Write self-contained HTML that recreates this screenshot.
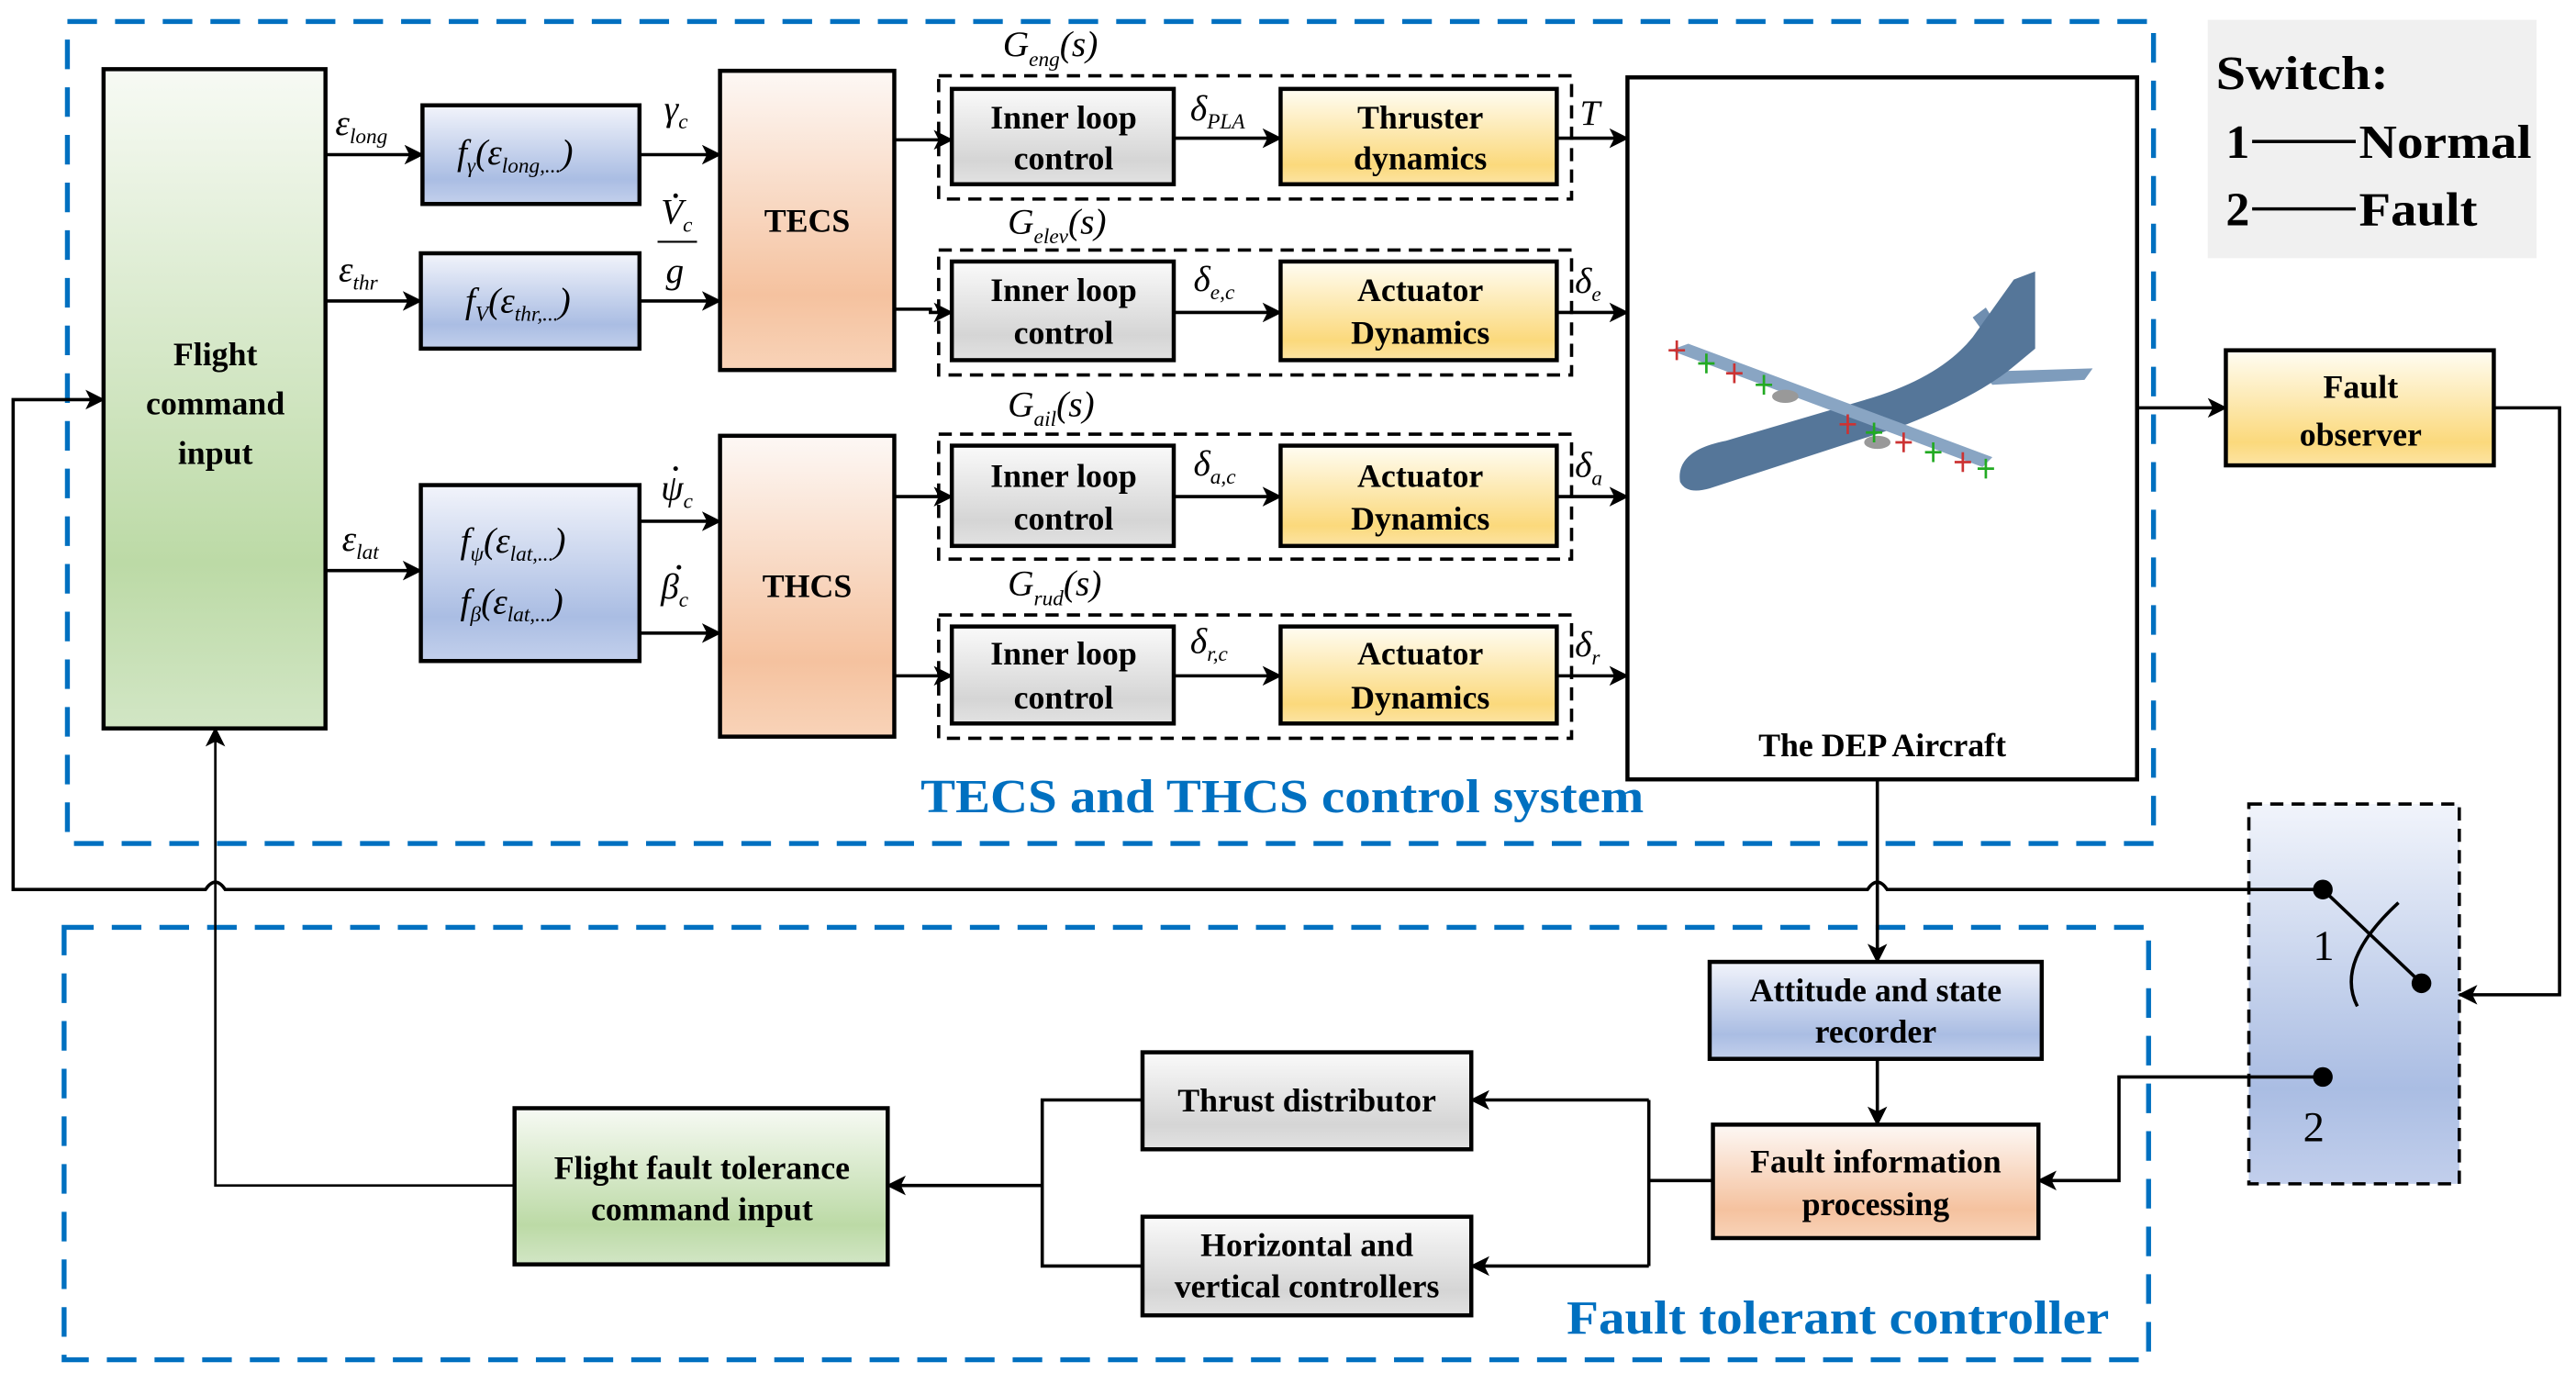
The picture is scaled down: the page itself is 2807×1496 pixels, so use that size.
<!DOCTYPE html>
<html><head><meta charset="utf-8"><style>
html,body{margin:0;padding:0;background:#fff;}
svg{display:block;}
text{font-family:"Liberation Serif",serif;}
.b{font-weight:bold;font-size:20px;fill:#000;}
.m{font-style:italic;font-size:22px;fill:#000;}
.s{font-size:13px;font-style:italic;}
</style></head><body>
<svg width="2807" height="1496" viewBox="0 0 1567 835" xmlns="http://www.w3.org/2000/svg">
<defs>
<linearGradient id="gr" x1="0" y1="0" x2="0" y2="1"><stop offset="0" stop-color="#f7faf4"/><stop offset="0.75" stop-color="#bcdaa6"/><stop offset="1" stop-color="#d2e6c5"/></linearGradient>
<linearGradient id="bl" x1="0" y1="0" x2="0" y2="1"><stop offset="0" stop-color="#f2f4fb"/><stop offset="0.75" stop-color="#aabde3"/><stop offset="1" stop-color="#c3d0ec"/></linearGradient>
<linearGradient id="sa" x1="0" y1="0" x2="0" y2="1"><stop offset="0" stop-color="#fdf8f5"/><stop offset="0.75" stop-color="#f5c29f"/><stop offset="1" stop-color="#f8d3b8"/></linearGradient>
<linearGradient id="ye" x1="0" y1="0" x2="0" y2="1"><stop offset="0" stop-color="#fffdf3"/><stop offset="0.8" stop-color="#fbd97c"/><stop offset="1" stop-color="#fce4a4"/></linearGradient>
<linearGradient id="gy" x1="0" y1="0" x2="0" y2="1"><stop offset="0" stop-color="#fafafa"/><stop offset="0.75" stop-color="#d5d5d5"/><stop offset="1" stop-color="#e2e2e2"/></linearGradient>
<linearGradient id="sw" x1="0" y1="0" x2="0" y2="1"><stop offset="0" stop-color="#f1f4fb"/><stop offset="0.75" stop-color="#aabde3"/><stop offset="1" stop-color="#c2cfec"/></linearGradient>
<marker id="ar" markerWidth="12" markerHeight="12" refX="11" refY="6" orient="auto" markerUnits="userSpaceOnUse"><path d="M0,0 L12,6 L0,12 L3,6 Z" fill="#000"/></marker>
</defs>

<rect x="41" y="13" width="1269" height="500" fill="none" stroke="#0070C0" stroke-width="3" stroke-dasharray="18,11"/>
<rect x="39" y="564" width="1268" height="263" fill="none" stroke="#0070C0" stroke-width="3" stroke-dasharray="18,11"/>
<text x="560" y="494" font-size="29" font-weight="bold" fill="#0070C0" textLength="440" lengthAdjust="spacingAndGlyphs">TECS and THCS control system</text>
<text x="953" y="811" font-size="29" font-weight="bold" fill="#0070C0" textLength="330" lengthAdjust="spacingAndGlyphs">Fault tolerant controller</text>

<rect x="1343" y="12" width="200" height="145" fill="#f0f0f0"/>
<text x="1348" y="54" font-size="29" font-weight="bold" textLength="105" lengthAdjust="spacingAndGlyphs">Switch:</text>
<text x="1354" y="96" font-size="29" font-weight="bold">1</text><line x1="1370" y1="86" x2="1433" y2="86" stroke="#000" stroke-width="2"/>
<text x="1435" y="96" font-size="29" font-weight="bold" textLength="105" lengthAdjust="spacingAndGlyphs">Normal</text>
<text x="1354" y="137" font-size="29" font-weight="bold">2</text><line x1="1370" y1="127" x2="1433" y2="127" stroke="#000" stroke-width="2"/>
<text x="1435" y="137" font-size="29" font-weight="bold" textLength="72" lengthAdjust="spacingAndGlyphs">Fault</text>

<rect x="63" y="42" width="135" height="401" fill="url(#gr)" stroke="#000" stroke-width="2.5"/>
<text class="b" font-size="25" x="131" y="222" text-anchor="middle">Flight</text>
<text class="b" font-size="25" x="131" y="252" text-anchor="middle">command</text>
<text class="b" font-size="25" x="131" y="282" text-anchor="middle">input</text>

<rect x="257" y="64" width="132" height="60" fill="url(#bl)" stroke="#000" stroke-width="2.5"/>
<text class="m" x="278" y="100">f<tspan class="s" dy="5">γ</tspan><tspan dy="-5">(ε</tspan><tspan class="s" dy="5">long,...</tspan><tspan dy="-5">)</tspan></text>
<rect x="256" y="154" width="133" height="58" fill="url(#bl)" stroke="#000" stroke-width="2.5"/>
<text class="m" x="283" y="190">f<tspan class="s" dy="5">V</tspan><tspan dy="-5">(ε</tspan><tspan class="s" dy="5">thr,...</tspan><tspan dy="-5">)</tspan></text>
<rect x="256" y="295" width="133" height="107" fill="url(#bl)" stroke="#000" stroke-width="2.5"/>
<text class="m" x="280" y="336">f<tspan class="s" dy="5">ψ</tspan><tspan dy="-5">(ε</tspan><tspan class="s" dy="5">lat,...</tspan><tspan dy="-5">)</tspan></text>
<text class="m" x="280" y="373">f<tspan class="s" dy="5">β</tspan><tspan dy="-5">(ε</tspan><tspan class="s" dy="5">lat,...</tspan><tspan dy="-5">)</tspan></text>

<rect x="438" y="43" width="106" height="182" fill="url(#sa)" stroke="#000" stroke-width="2.5"/>
<text class="b" x="491" y="141" text-anchor="middle">TECS</text>
<rect x="438" y="265" width="106" height="183" fill="url(#sa)" stroke="#000" stroke-width="2.5"/>
<text class="b" x="491" y="363" text-anchor="middle">THCS</text>

<text class="m" x="204" y="82">ε<tspan class="s" dy="5">long</tspan></text>
<text class="m" x="206" y="171">ε<tspan class="s" dy="5">thr</tspan></text>
<text class="m" x="208" y="335">ε<tspan class="s" dy="5">lat</tspan></text>
<text class="m" x="404" y="73">γ<tspan class="s" dy="5">c</tspan></text>
<text class="m" x="402" y="136">V<tspan class="s" dy="5">c</tspan></text>
<circle cx="411" cy="119" r="1.4" fill="#000"/>
<line x1="400" y1="147" x2="424" y2="147" stroke="#000" stroke-width="1.2"/>
<text class="m" x="405" y="172">g</text>
<text class="m" x="402" y="304">ψ<tspan class="s" dy="5">c</tspan></text>
<circle cx="411" cy="285" r="1.4" fill="#000"/>
<text class="m" x="402" y="364">β<tspan class="s" dy="5">c</tspan></text>
<circle cx="413" cy="345" r="1.4" fill="#000"/>

<g stroke="#000" stroke-width="2" fill="none">
<line x1="198" y1="94" x2="257" y2="94" marker-end="url(#ar)"/>
<line x1="198" y1="183" x2="256" y2="183" marker-end="url(#ar)"/>
<line x1="198" y1="347" x2="256" y2="347" marker-end="url(#ar)"/>
<line x1="389" y1="94" x2="438" y2="94" marker-end="url(#ar)"/>
<line x1="389" y1="183" x2="438" y2="183" marker-end="url(#ar)"/>
<line x1="389" y1="317" x2="438" y2="317" marker-end="url(#ar)"/>
<line x1="389" y1="385" x2="438" y2="385" marker-end="url(#ar)"/>
<line x1="544" y1="85" x2="579" y2="85" marker-end="url(#ar)"/>
<polyline points="544,188 566,188 566,190 579,190" marker-end="url(#ar)"/>
<line x1="544" y1="302" x2="579" y2="302" marker-end="url(#ar)"/>
<line x1="544" y1="411" x2="579" y2="411" marker-end="url(#ar)"/>
</g>

<rect x="571" y="46" width="385" height="75" fill="none" stroke="#000" stroke-width="2" stroke-dasharray="8,5"/>
<rect x="571" y="152" width="385" height="76" fill="none" stroke="#000" stroke-width="2" stroke-dasharray="8,5"/>
<rect x="571" y="264" width="385" height="76" fill="none" stroke="#000" stroke-width="2" stroke-dasharray="8,5"/>
<rect x="571" y="374" width="385" height="75" fill="none" stroke="#000" stroke-width="2" stroke-dasharray="8,5"/>

<rect x="579" y="54" width="135" height="58" fill="url(#gy)" stroke="#000" stroke-width="2.5"/>
<rect x="579" y="159" width="135" height="60" fill="url(#gy)" stroke="#000" stroke-width="2.5"/>
<rect x="579" y="271" width="135" height="61" fill="url(#gy)" stroke="#000" stroke-width="2.5"/>
<rect x="579" y="381" width="135" height="59" fill="url(#gy)" stroke="#000" stroke-width="2.5"/>
<rect x="779" y="54" width="168" height="58" fill="url(#ye)" stroke="#000" stroke-width="2.5"/>
<rect x="779" y="159" width="168" height="60" fill="url(#ye)" stroke="#000" stroke-width="2.5"/>
<rect x="779" y="271" width="168" height="61" fill="url(#ye)" stroke="#000" stroke-width="2.5"/>
<rect x="779" y="381" width="168" height="59" fill="url(#ye)" stroke="#000" stroke-width="2.5"/>

<text class="b" x="647" y="78" text-anchor="middle">Inner loop</text><text class="b" x="647" y="103" text-anchor="middle">control</text>
<text class="b" x="647" y="183" text-anchor="middle">Inner loop</text><text class="b" x="647" y="209" text-anchor="middle">control</text>
<text class="b" x="647" y="296" text-anchor="middle">Inner loop</text><text class="b" x="647" y="322" text-anchor="middle">control</text>
<text class="b" x="647" y="404" text-anchor="middle">Inner loop</text><text class="b" x="647" y="431" text-anchor="middle">control</text>
<text class="b" x="864" y="78" text-anchor="middle">Thruster</text><text class="b" x="864" y="103" text-anchor="middle">dynamics</text>
<text class="b" x="864" y="183" text-anchor="middle">Actuator</text><text class="b" x="864" y="209" text-anchor="middle">Dynamics</text>
<text class="b" x="864" y="296" text-anchor="middle">Actuator</text><text class="b" x="864" y="322" text-anchor="middle">Dynamics</text>
<text class="b" x="864" y="404" text-anchor="middle">Actuator</text><text class="b" x="864" y="431" text-anchor="middle">Dynamics</text>

<g stroke="#000" stroke-width="2">
<line x1="714" y1="84" x2="779" y2="84" marker-end="url(#ar)"/>
<line x1="714" y1="190" x2="779" y2="190" marker-end="url(#ar)"/>
<line x1="714" y1="302" x2="779" y2="302" marker-end="url(#ar)"/>
<line x1="714" y1="411" x2="779" y2="411" marker-end="url(#ar)"/>
<line x1="947" y1="84" x2="990" y2="84" marker-end="url(#ar)"/>
<line x1="947" y1="190" x2="990" y2="190" marker-end="url(#ar)"/>
<line x1="947" y1="302" x2="990" y2="302" marker-end="url(#ar)"/>
<line x1="947" y1="411" x2="990" y2="411" marker-end="url(#ar)"/>
</g>
<text class="m" x="610" y="34">G<tspan class="s" dy="6">eng</tspan><tspan dy="-6">(s)</tspan></text>
<text class="m" x="613" y="142">G<tspan class="s" dy="6">elev</tspan><tspan dy="-6">(s)</tspan></text>
<text class="m" x="613" y="253">G<tspan class="s" dy="6">ail</tspan><tspan dy="-6">(s)</tspan></text>
<text class="m" x="613" y="362">G<tspan class="s" dy="6">rud</tspan><tspan dy="-6">(s)</tspan></text>
<text class="m" x="724" y="73">δ<tspan class="s" dy="5">PLA</tspan></text>
<text class="m" x="726" y="177">δ<tspan class="s" dy="5">e,c</tspan></text>
<text class="m" x="726" y="289">δ<tspan class="s" dy="5">a,c</tspan></text>
<text class="m" x="724" y="397">δ<tspan class="s" dy="5">r,c</tspan></text>
<text class="m" x="961" y="76">T</text>
<text class="m" x="958" y="178">δ<tspan class="s" dy="5">e</tspan></text>
<text class="m" x="958" y="290">δ<tspan class="s" dy="5">a</tspan></text>
<text class="m" x="958" y="399">δ<tspan class="s" dy="5">r</tspan></text>

<rect x="990" y="47" width="310" height="427" fill="#fff" stroke="#000" stroke-width="2.5"/>
<text class="b" x="1145" y="460" text-anchor="middle" font-size="22">The DEP Aircraft</text>
<g>
<path d="M1205,226 L1273,224 L1268,231 L1212,234 Z" fill="#7e9cbc"/>
<path d="M1200,193 L1208,187 L1216,200 L1208,204 Z" fill="#6f8eb0"/>
<path d="M1022,293 Q1020,280 1034,273 Q1040,270 1050,268 L1135,243 Q1180,230 1200,205 L1225,170 L1238,165 L1238,212 L1226,222 Q1205,240 1160,258 L1040,297 Q1026,301 1022,293 Z" fill="#557699"/>
<path d="M1016,213 L1027,209 L1212,278 L1206,284 Z" fill="#89a5c3"/>
<ellipse cx="1086" cy="241" rx="8" ry="4" fill="#999"/>
<ellipse cx="1142" cy="269" rx="8" ry="4" fill="#999"/>
<g stroke-width="1.5">
<path d="M1020,207 v12 M1015,213 h10" stroke="#c33"/>
<path d="M1038,215 v12 M1033,221 h10" stroke="#2a2"/>
<path d="M1055,221 v12 M1050,227 h10" stroke="#c33"/>
<path d="M1073,228 v12 M1068,234 h10" stroke="#2a2"/>
<path d="M1124,252 v12 M1119,258 h10" stroke="#c33"/>
<path d="M1140,257 v12 M1135,263 h10" stroke="#2a2"/>
<path d="M1158,263 v12 M1153,269 h10" stroke="#c33"/>
<path d="M1176,269 v12 M1171,275 h10" stroke="#2a2"/>
<path d="M1194,275 v12 M1189,281 h10" stroke="#c33"/>
<path d="M1208,279 v12 M1203,285 h10" stroke="#2a2"/>
</g>
</g>

<rect x="1354" y="213" width="163" height="70" fill="url(#ye)" stroke="#000" stroke-width="2.5"/>
<text class="b" x="1436" y="242" text-anchor="middle" font-size="22">Fault</text>
<text class="b" x="1436" y="271" text-anchor="middle" font-size="22">observer</text>

<rect x="1368" y="489" width="128" height="231" fill="url(#sw)" stroke="#000" stroke-width="2" stroke-dasharray="8,5"/>
<circle cx="1413" cy="541" r="6" fill="#000"/>
<circle cx="1473" cy="598" r="6" fill="#000"/>
<circle cx="1413" cy="655" r="6" fill="#000"/>
<line x1="1413" y1="541" x2="1473" y2="598" stroke="#000" stroke-width="2"/>
<path d="M1459,549 Q1420,585 1434,612" fill="none" stroke="#000" stroke-width="2"/>
<text x="1407" y="584" font-size="26">1</text>
<text x="1401" y="694" font-size="26">2</text>

<rect x="1040" y="585" width="202" height="59" fill="url(#bl)" stroke="#000" stroke-width="2.5"/>
<text class="b" x="1141" y="609" text-anchor="middle">Attitude and state</text>
<text class="b" x="1141" y="634" text-anchor="middle">recorder</text>
<rect x="1042" y="684" width="198" height="69" fill="url(#sa)" stroke="#000" stroke-width="2.5"/>
<text class="b" x="1141" y="713" text-anchor="middle">Fault information</text>
<text class="b" x="1141" y="739" text-anchor="middle">processing</text>
<rect x="695" y="640" width="200" height="59" fill="url(#gy)" stroke="#000" stroke-width="2.5"/>
<text class="b" x="795" y="676" text-anchor="middle">Thrust distributor</text>
<rect x="695" y="740" width="200" height="60" fill="url(#gy)" stroke="#000" stroke-width="2.5"/>
<text class="b" x="795" y="764" text-anchor="middle">Horizontal and</text>
<text class="b" x="795" y="789" text-anchor="middle">vertical controllers</text>
<rect x="313" y="674" width="227" height="95" fill="url(#gr)" stroke="#000" stroke-width="2.5"/>
<text class="b" x="427" y="717" text-anchor="middle">Flight fault tolerance</text>
<text class="b" x="427" y="742" text-anchor="middle">command input</text>

<g stroke="#000" stroke-width="2" fill="none">
<path d="M1413,541 L1148,541 Q1142,532 1136,541 L137,541 Q131,532 125,541 L8,541 L8,243 L63,243" marker-end="url(#ar)"/>
<line x1="1300" y1="248" x2="1354" y2="248" marker-end="url(#ar)"/>
<polyline points="1517,248 1557,248 1557,605 1496,605" marker-end="url(#ar)"/>
<line x1="1142" y1="474" x2="1142" y2="585" marker-end="url(#ar)"/>
<line x1="1142" y1="644" x2="1142" y2="684" marker-end="url(#ar)"/>
<polyline points="1413,655 1289,655 1289,718 1240,718" marker-end="url(#ar)"/>
<polyline points="1042,718 1003,718"/>
<polyline points="1003,669 1003,770"/>
<line x1="1003" y1="669" x2="895" y2="669" marker-end="url(#ar)"/>
<line x1="1003" y1="770" x2="895" y2="770" marker-end="url(#ar)"/>
<polyline points="695,669 634,669 634,770 695,770"/>
<line x1="634" y1="721" x2="540" y2="721" marker-end="url(#ar)"/>
<polyline points="313,721 131,721 131,443" stroke-width="1.5" marker-end="url(#ar)"/>
</g>
</svg>
</body></html>
